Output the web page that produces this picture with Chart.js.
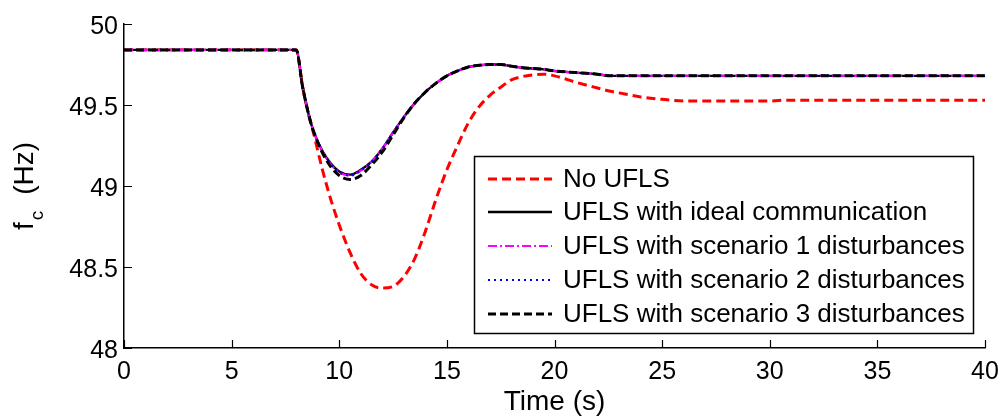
<!DOCTYPE html>
<html><head><meta charset="utf-8">
<script src="https://cdn.jsdelivr.net/npm/chart.js@4"></script>
<style>html,body{margin:0;padding:0;background:#fff;}#wrap{width:1004px;height:419px;}</style>
</head><body><div id="wrap"><canvas id="c" width="1004" height="419"></canvas></div>
<script>
// ---- data ----
const time   = [0, 8, 8.3, 8.6, 8.8, 9.2, 9.6, 10, 10.5, 11, 11.5, 12, 12.5, 13, 13.5, 14, 14.5, 15, 15.5, 16, 16.5, 17, 17.5, 18, 18.5, 19, 19.5, 20, 21, 22, 22.6, 23, 24, 25, 26, 28, 30, 30.8, 32, 35, 40];
const noUfls = [49.84, 49.84, 49.61, 49.43, 49.33, 49.11, 48.92, 48.76, 48.59, 48.46, 48.39, 48.37, 48.38, 48.44, 48.55, 48.72, 48.92, 49.10, 49.25, 49.39, 49.49, 49.56, 49.61, 49.655, 49.675, 49.685, 49.69, 49.68, 49.64, 49.605, 49.585, 49.575, 49.55, 49.535, 49.525, 49.525, 49.525, 49.53, 49.53, 49.53, 49.53];
const ideal  = [49.84, 49.84, 49.61, 49.43, 49.34, 49.22, 49.14, 49.09, 49.07, 49.10, 49.15, 49.23, 49.33, 49.425, 49.51, 49.58, 49.635, 49.68, 49.71, 49.735, 49.745, 49.75, 49.75, 49.74, 49.73, 49.725, 49.72, 49.71, 49.70, 49.69, 49.68, 49.68, 49.68, 49.68, 49.68, 49.68, 49.68, 49.68, 49.68, 49.68, 49.68];
const scen1  = [49.84, 49.84, 49.61, 49.43, 49.34, 49.22, 49.135, 49.085, 49.065, 49.095, 49.15, 49.23, 49.33, 49.425, 49.51, 49.58, 49.635, 49.68, 49.71, 49.735, 49.745, 49.75, 49.75, 49.74, 49.73, 49.725, 49.72, 49.71, 49.70, 49.69, 49.68, 49.68, 49.68, 49.68, 49.68, 49.68, 49.68, 49.68, 49.68, 49.68, 49.68];
const scen2  = [49.84, 49.84, 49.61, 49.43, 49.34, 49.22, 49.135, 49.085, 49.065, 49.095, 49.15, 49.23, 49.33, 49.425, 49.51, 49.58, 49.635, 49.68, 49.71, 49.735, 49.745, 49.75, 49.75, 49.74, 49.73, 49.725, 49.72, 49.71, 49.70, 49.69, 49.68, 49.68, 49.68, 49.68, 49.68, 49.68, 49.68, 49.68, 49.68, 49.68, 49.68];
const scen3  = [49.84, 49.84, 49.61, 49.43, 49.34, 49.21, 49.12, 49.065, 49.04, 49.065, 49.13, 49.21, 49.315, 49.42, 49.51, 49.58, 49.635, 49.68, 49.71, 49.735, 49.745, 49.75, 49.75, 49.74, 49.73, 49.725, 49.72, 49.71, 49.70, 49.69, 49.68, 49.68, 49.68, 49.68, 49.68, 49.68, 49.68, 49.68, 49.68, 49.68, 49.68];
const seriesLabels = ['No UFLS', 'UFLS with ideal communication', 'UFLS with scenario 1 disturbances', 'UFLS with scenario 2 disturbances', 'UFLS with scenario 3 disturbances'];
const xTicks = [0, 5, 10, 15, 20, 25, 30, 35, 40];
const yTicks = [48, 48.5, 49, 49.5, 50];
const yTickLabels = ['48', '48.5', '49', '49.5', '50'];
const xTitle = 'Time (s)';

// ---- styles ----
const FONT = '"Liberation Sans", Arial, Helvetica, sans-serif';
const styles = [
  {color: '#ff0000', width: 3, dash: [9, 5], order: 5},
  {color: '#000000', width: 2.4, dash: [], order: 4},
  {color: '#ff00ff', width: 2.2, dash: [9, 3, 2, 3], order: 3},
  {color: '#0000ff', width: 2.2, dash: [2, 4], order: 2},
  {color: '#000000', width: 3, dash: [8, 4], order: 1}
];
const values = [noUfls, ideal, scen1, scen2, scen3];

const datasets = values.map((arr, k) => ({
  label: seriesLabels[k],
  data: time.map((t, i) => ({x: t, y: arr[i]})),
  borderColor: styles[k].color,
  borderWidth: styles[k].width,
  borderDash: styles[k].dash,
  borderCapStyle: 'butt',
  pointRadius: 0,
  fill: false,
  cubicInterpolationMode: 'monotone',
  order: styles[k].order
}));

const extras = {
  id: 'extras',
  afterDraw(chart) {
    const ctx = chart.ctx, xs = chart.scales.x, ys = chart.scales.y, a = chart.chartArea;
    ctx.save();
    // inward tick marks
    ctx.strokeStyle = '#000'; ctx.lineWidth = 1.2; ctx.setLineDash([]);
    ctx.beginPath();
    xTicks.forEach(v => { const p = Math.round(xs.getPixelForValue(v)) + 0.5; ctx.moveTo(p, a.bottom); ctx.lineTo(p, a.bottom - 8); });
    yTicks.forEach(v => { const p = Math.round(ys.getPixelForValue(v)) + 0.5; ctx.moveTo(a.left, p); ctx.lineTo(a.left + 8, p); });
    ctx.stroke();

    // y axis title with subscript
    ctx.save();
    ctx.translate(24, (a.top + a.bottom) / 2);
    ctx.rotate(-Math.PI / 2);
    ctx.fillStyle = '#000';
    ctx.textBaseline = 'alphabetic';
    ctx.font = '28px ' + FONT;
    ctx.textAlign = 'left';
    ctx.fillText('f', -44, 9);
    const wf = ctx.measureText('f').width;
    ctx.font = '19px ' + FONT;
    ctx.fillText('c', -44 + wf + 2, 19);
    ctx.font = '28px ' + FONT;
    ctx.textAlign = 'right';
    ctx.fillText('(Hz)', 44, 9);
    ctx.restore();

    // legend box
    const bx = 474.5, by = 156.5, bw = 499, bh = 177;
    ctx.fillStyle = '#fff';
    ctx.fillRect(bx, by, bw, bh);
    ctx.strokeStyle = '#000'; ctx.lineWidth = 1.5;
    ctx.strokeRect(bx, by, bw, bh);
    const rows = [179, 212, 246, 280, 314];
    chart.data.datasets.forEach((ds, i) => {
      const y = rows[i];
      ctx.strokeStyle = ds.borderColor;
      ctx.lineWidth = ds.borderWidth;
      ctx.setLineDash(ds.borderDash);
      ctx.lineCap = 'butt';
      ctx.beginPath(); ctx.moveTo(488, y); ctx.lineTo(552, y); ctx.stroke();
      ctx.setLineDash([]);
      ctx.fillStyle = '#000';
      ctx.font = '26px ' + FONT;
      ctx.textAlign = 'left';
      ctx.textBaseline = 'middle';
      ctx.fillText(ds.label, 563, y + 1);
    });
    ctx.restore();
  }
};

new Chart(document.getElementById('c'), {
  type: 'line',
  data: {datasets},
  options: {
    responsive: false,
    devicePixelRatio: 1,
    animation: false,
    events: [],
    layout: {padding: {top: 24, right: 19, left: 0, bottom: 0}},
    plugins: {legend: {display: false}, tooltip: {enabled: false}, title: {display: false}},
    scales: {
      x: {
        type: 'linear', min: 0, max: 40,
        afterBuildTicks: s => { s.ticks = xTicks.map(v => ({value: v})); },
        afterFit: s => { s.height = 71; s.paddingLeft = 0; s.paddingRight = 0; },
        ticks: {font: {family: FONT, size: 25}, color: '#000', padding: 9, maxRotation: 0, autoSkip: false,
                callback: v => String(v)},
        grid: {display: false, drawTicks: false},
        border: {display: true, color: '#000', width: 1.5},
        title: {display: true, text: xTitle, color: '#000', font: {family: FONT, size: 28}, padding: {top: 0, bottom: 0}}
      },
      y: {
        type: 'linear', min: 48, max: 50,
        afterBuildTicks: s => { s.ticks = yTicks.map(v => ({value: v})); },
        afterFit: s => { s.width = 124; s.paddingTop = 0; s.paddingBottom = 0; },
        ticks: {font: {family: FONT, size: 25}, color: '#000', padding: 6, autoSkip: false, labelOffset: 3,
                callback: v => yTickLabels[yTicks.indexOf(v)]},
        grid: {display: false, drawTicks: false},
        border: {display: true, color: '#000', width: 1.5}
      }
    }
  },
  plugins: [extras]
});
</script>
</body></html>
